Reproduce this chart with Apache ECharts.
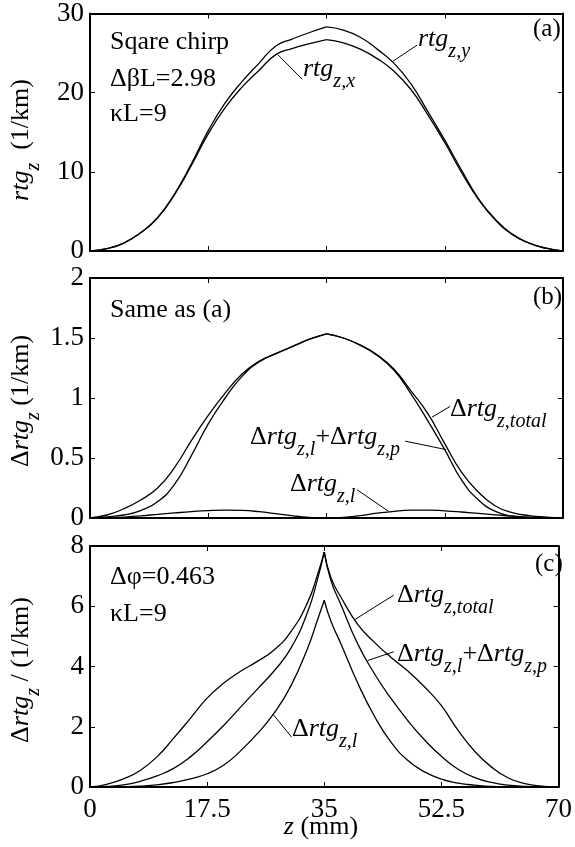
<!DOCTYPE html>
<html>
<head>
<meta charset="utf-8">
<script src="https://cdn.jsdelivr.net/npm/echarts@6.0.0/dist/echarts.min.js"></script>
<style>
  html, body { margin: 0; padding: 0; background: #fff; }
  #chart { width: 575px; height: 847px; }
</style>
</head>
<body>
<div id="chart"></div>
<script>
// Position along the grating, z (mm)
const zAB = [0, 2.5, 5, 7.5, 10, 12.5, 15, 17.5, 20, 22.5, 25, 27.5, 30, 32.5, 35,
             37.5, 40, 42.5, 45, 47.5, 50, 52.5, 55, 57.5, 60, 62.5, 65, 67.5, 70];
const zC = [0, 2.5, 5, 7.5, 10, 12.5, 15, 17.5, 20, 22.5, 25, 27.5, 30, 32.5, 34, 35,
            36, 37.5, 40, 42.5, 45, 47.5, 50, 52.5, 55, 57.5, 60, 62.5, 65, 67.5, 70];

// (a) rtg_z,x and rtg_z,y (1/km)
const rtgZX = [0, 0.3, 1.0, 2.3, 4.2, 7.1, 10.8, 14.8, 18.1, 20.7, 22.8, 24.8, 25.6, 26.2, 26.7,
               26.3, 25.5, 24.3, 22.7, 20.4, 17.2, 13.7, 9.9, 6.5, 3.9, 2.1, 1.0, 0.35, 0];
const rtgZY = [0, 0.3, 1.0, 2.3, 4.2, 7.2, 11.0, 15.2, 18.7, 21.4, 23.7, 25.9, 26.8, 27.6, 28.3,
               27.9, 27.0, 25.5, 23.7, 21.1, 17.6, 14.0, 10.2, 6.6, 4.0, 2.1, 1.0, 0.35, 0];

// (b) Δrtg_z (1/km)
const dTotalB = [0, 0.025, 0.077, 0.15, 0.25, 0.42, 0.645, 0.855, 1.04, 1.2, 1.305, 1.37, 1.43, 1.49, 1.535,
                 1.5, 1.44, 1.36, 1.24, 1.06, 0.87, 0.62, 0.38, 0.215, 0.1, 0.045, 0.02, 0.008, 0];
const dLPB = [0, 0.01, 0.025, 0.062, 0.135, 0.28, 0.52, 0.785, 1.0, 1.18, 1.3, 1.37, 1.43, 1.49, 1.535,
              1.5, 1.44, 1.355, 1.23, 1.035, 0.81, 0.57, 0.315, 0.15, 0.055, 0.015, 0.003, 0, 0];
const dLB = [0, 0.002, 0.008, 0.018, 0.03, 0.042, 0.053, 0.061, 0.065, 0.063, 0.053, 0.036, 0.018, 0.005, 0,
             0.005, 0.02, 0.04, 0.056, 0.065, 0.066, 0.06, 0.05, 0.038, 0.026, 0.015, 0.007, 0.002, 0];

// (c) Δrtg_z (1/km), Δφ = 0.463
const dTotalC = [0, 0.09, 0.27, 0.55, 1.0, 1.62, 2.28, 2.95, 3.45, 3.84, 4.17, 4.55, 5.15, 6.12, 7.05, 7.8,
                 6.95, 6.3, 5.4, 4.8, 4.3, 3.85, 3.32, 2.7, 1.88, 1.18, 0.66, 0.3, 0.11, 0.03, 0];
const dLPC = [0, 0.02, 0.07, 0.19, 0.37, 0.62, 1.0, 1.5, 2.05, 2.65, 3.25, 3.85, 4.6, 5.8, 6.9, 7.8,
              6.85, 6.05, 4.75, 3.76, 2.93, 2.2, 1.56, 1.02, 0.59, 0.31, 0.15, 0.06, 0.02, 0.005, 0];
const dLC = [0, 0, 0.01, 0.03, 0.07, 0.15, 0.27, 0.44, 0.73, 1.2, 1.77, 2.45, 3.35, 4.6, 5.55, 6.2,
             5.5, 4.75, 3.45, 2.35, 1.48, 0.88, 0.5, 0.26, 0.13, 0.06, 0.02, 0.005, 0, 0, 0];

// Axis ranges and tick spacing
const xTicks = [0, 17.5, 35, 52.5, 70];
const yTicksA = [0, 10, 20, 30];
const yTicksB = [0, 0.5, 1, 1.5, 2];
const yTicksC = [0, 2, 4, 6, 8];

const SERIF = 'Liberation Serif';
const MAIN = 26, SUB = 20, DROP = 11, MID = 0.3;
const mctx = document.createElement('canvas').getContext('2d');
function widthOf(text, size, italic) {
  mctx.font = (italic ? 'italic ' : '') + size + 'px "' + SERIF + '"';
  return mctx.measureText(text).width;
}
// A line of text made of pieces: 'r' upright, 'i' italic, 's' italic subscript.
// (x, y) is the left end of the baseline (or its centre when opt.center is set).
function label(x, y, parts, opt) {
  opt = opt || {};
  const main = opt.size || MAIN;
  let cx = 0;
  const kids = parts.map(function (p) {
    const isSub = p[1] === 's';
    const size = isSub ? SUB : main;
    const italic = p[1] !== 'r';
    const el = {
      type: 'text', x: cx, y: (isSub ? DROP : 0) - MID * size,
      style: { text: p[0], fontFamily: SERIF, fontSize: size,
               fontStyle: italic ? 'italic' : 'normal', fill: '#000',
               align: 'left', verticalAlign: 'middle' }
    };
    cx += widthOf(p[0], size, italic);
    return el;
  });
  if (opt.center) kids.forEach(function (k) { k.x -= cx / 2; });
  return { type: 'group', x: x, y: y, rotation: opt.rotate ? Math.PI / 2 : 0,
           silent: true, children: kids };
}

const grids = [
  { left: 90, right: 12, top: 10, height: 241 },
  { left: 90, right: 12, top: 278, height: 240 },
  { left: 90, right: 12, top: 546, height: 241 }
];
const yRanges = [yTicksA, yTicksB, yTicksC];

const tickFont = { fontFamily: SERIF, fontSize: 27, color: '#000' };
const frame = { show: true, onZero: false, lineStyle: { color: '#000', width: 2 } };
const inTick = { show: true, inside: true, length: 5, lineStyle: { color: '#000', width: 1 } };

const xAxes = [], yAxes = [];
grids.forEach(function (g, i) {
  const xStep = xTicks[1] - xTicks[0];
  ['bottom', 'top'].forEach(function (pos) {
    xAxes.push({
      type: 'value', gridIndex: i, position: pos,
      min: xTicks[0], max: xTicks[xTicks.length - 1], interval: xStep,
      axisLine: frame, axisTick: inTick, splitLine: { show: false },
      axisLabel: Object.assign({ show: i === 2 && pos === 'bottom', margin: 9 }, tickFont)
    });
  });
  const yt = yRanges[i];
  ['left', 'right'].forEach(function (pos) {
    yAxes.push({
      type: 'value', gridIndex: i, position: pos,
      min: yt[0], max: yt[yt.length - 1], interval: yt[1] - yt[0],
      axisLine: frame, axisTick: inTick, splitLine: { show: false },
      axisLabel: Object.assign({ show: pos === 'left', margin: 6 }, tickFont)
    });
  });
});

function pairs(z, v, from, to) {
  const out = [];
  for (let i = from; i <= to; i++) out.push([z[i], v[i]]);
  return out;
}
// One curve; split at the peak so the cusp stays sharp.
function curve(name, gi, z, v, splitAt, leaders) {
  const base = {
    type: 'line', name: name, xAxisIndex: gi * 2, yAxisIndex: gi * 2,
    showSymbol: false, symbol: 'none', smooth: 0.5,
    silent: true, animation: false,
    lineStyle: { color: '#000', width: 1.3 }, z: 3
  };
  const parts = splitAt == null
    ? [pairs(z, v, 0, z.length - 1)]
    : [pairs(z, v, 0, splitAt), pairs(z, v, splitAt, z.length - 1)];
  return parts.map(function (d, k) {
    const s = Object.assign({}, base, { data: d });
    if (k === 0 && leaders) {
      s.markLine = {
        silent: true, symbol: ['none', 'none'], animation: false,
        label: { show: false },
        lineStyle: { color: '#000', width: 1, type: 'solid' },
        data: leaders.map(function (l) { return [{ coord: l[0] }, { coord: l[1] }]; })
      };
    }
    return s;
  });
}

const iPeakAB = zAB.indexOf(35), iPeakC = zC.indexOf(35);
const series = [].concat(
  curve('rtg_z,x', 0, zAB, rtgZX, iPeakAB, [[[27.8, 24.8], [31.4, 21.7]]]),
  curve('rtg_z,y', 0, zAB, rtgZY, iPeakAB, [[[44.7, 23.9], [48.4, 26.0]]]),
  curve('Δrtg_z,total', 1, zAB, dTotalB, iPeakAB, [[[50.6, 0.84], [53.3, 0.93]]]),
  curve('Δrtg_z,l+Δrtg_z,p', 1, zAB, dLPB, iPeakAB, [[[46.65, 0.64], [52.7, 0.57]]]),
  curve('Δrtg_z,l', 1, zAB, dLB, null, [[[39.5, 0.236], [44.2, 0.055]]]),
  curve('Δrtg_z,total', 2, zC, dTotalC, iPeakC, [[[39.5, 5.55], [45.4, 6.37]]]),
  curve('Δrtg_z,l+Δrtg_z,p', 2, zC, dLPC, iPeakC, [[[41.5, 4.2], [45.4, 4.49]]]),
  curve('Δrtg_z,l', 2, zC, dLC, iPeakC, [[[27.4, 2.4], [30.1, 1.66]]])
);

const graphics = [
  // axis titles
  label(29, 140, [['rtg', 'i'], ['z', 's'], ['  (1/km)', 'r']], { rotate: true, center: true }),
  label(29, 401, [['Δ', 'r'], ['rtg', 'i'], ['z', 's'], [' (1/km)', 'r']], { rotate: true, center: true }),
  label(29, 670, [['Δ', 'r'], ['rtg', 'i'], ['z', 's'], [' / (1/km)', 'r']], { rotate: true, center: true }),
  label(321, 835, [['z', 'i'], [' (mm)', 'r']], { center: true }),
  // panel (a)
  label(110, 50, [['Sqare chirp', 'r']]),
  label(110, 87, [['ΔβL=2.98', 'r']]),
  label(110, 122, [['κL=9', 'r']]),
  label(533, 37, [['(a)', 'r']], { size: 25 }),
  label(418, 47, [['rtg', 'i'], ['z,y', 's']]),
  label(303, 77, [['rtg', 'i'], ['z,x', 's']]),
  // panel (b)
  label(110, 318, [['Same as (a)', 'r']]),
  label(533, 305, [['(b)', 'r']], { size: 25 }),
  label(450, 417, [['Δ', 'r'], ['rtg', 'i'], ['z,total', 's']]),
  label(250, 445, [['Δ', 'r'], ['rtg', 'i'], ['z,l', 's'], ['+Δ', 'r'], ['rtg', 'i'], ['z,p', 's']]),
  label(290, 492, [['Δ', 'r'], ['rtg', 'i'], ['z,l', 's']]),
  // panel (c)
  label(110, 585, [['Δφ=0.463', 'r']]),
  label(110, 622, [['κL=9', 'r']]),
  label(535, 572, [['(c)', 'r']], { size: 25 }),
  label(397, 603, [['Δ', 'r'], ['rtg', 'i'], ['z,total', 's']]),
  label(397, 662, [['Δ', 'r'], ['rtg', 'i'], ['z,l', 's'], ['+Δ', 'r'], ['rtg', 'i'], ['z,p', 's']]),
  label(292, 737, [['Δ', 'r'], ['rtg', 'i'], ['z,l', 's']])
];

const chart = echarts.init(document.getElementById('chart'), null, { renderer: 'canvas' });
chart.setOption({
  backgroundColor: '#fff',
  animation: false,
  grid: grids,
  xAxis: xAxes,
  yAxis: yAxes,
  series: series,
  graphic: graphics
});
</script>
</body>
</html>
